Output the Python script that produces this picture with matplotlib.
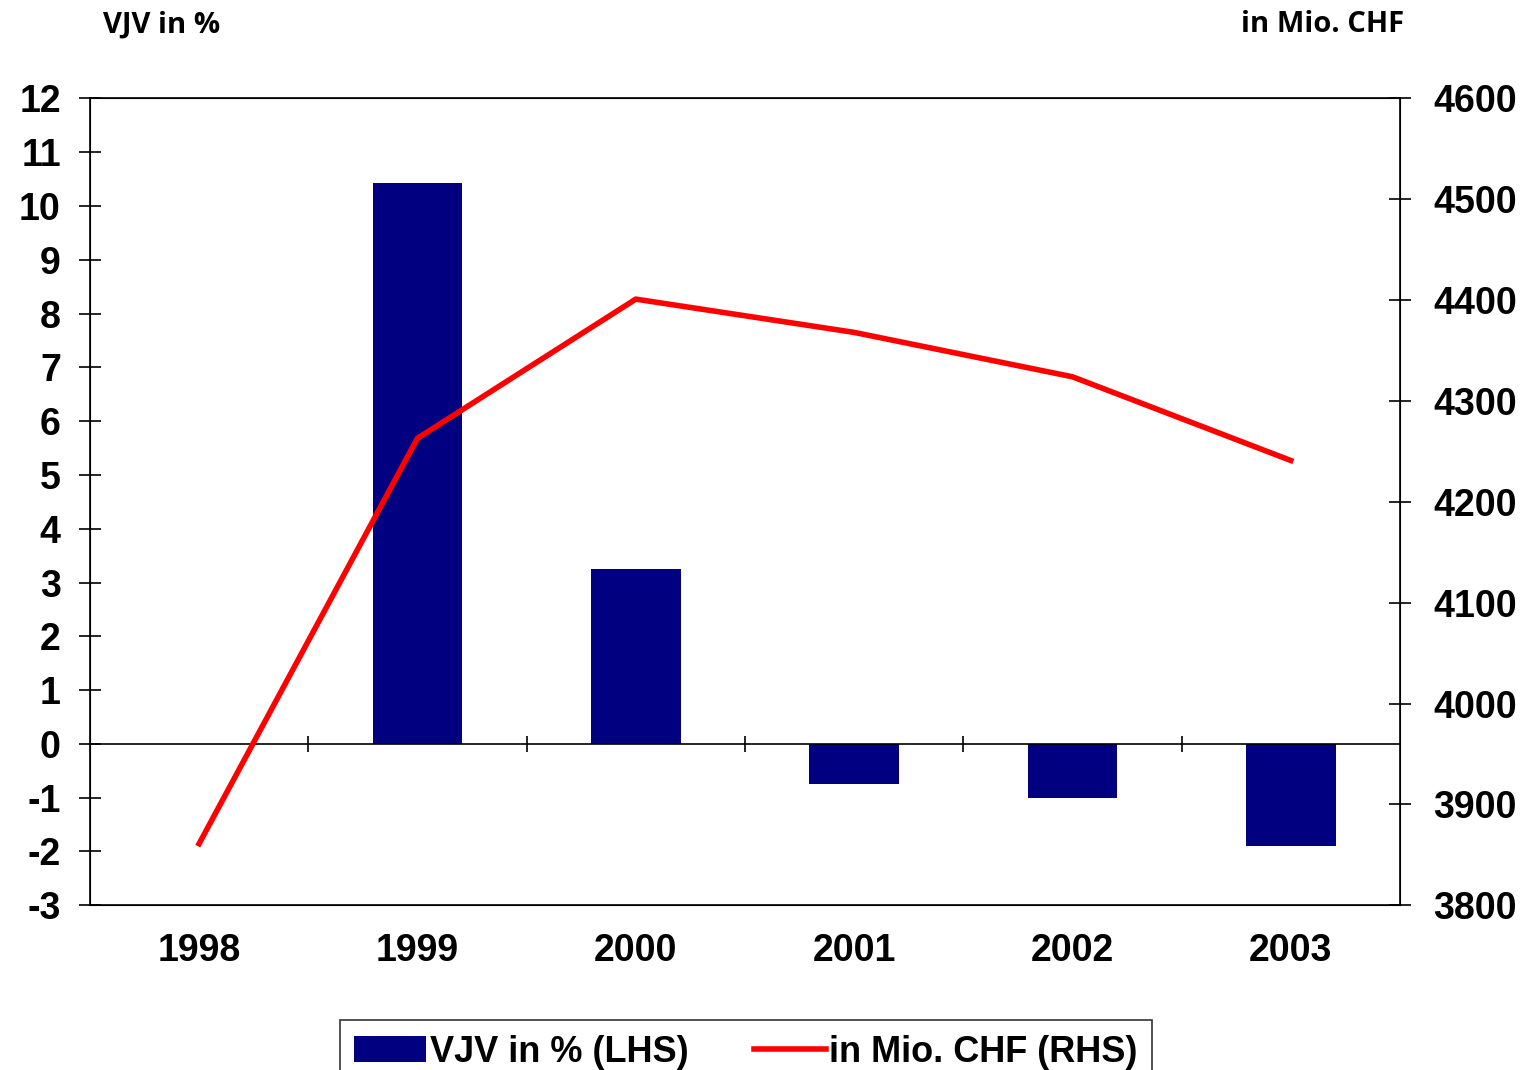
import matplotlib

matplotlib.use("Agg")
import matplotlib.pyplot as plt
import numpy as np

years = ["1998", "1999", "2000", "2001", "2002", "2003"]
vjv_pct = [0.0, 10.42, 3.26, -0.75, -1.0, -1.9]
mio_chf = [3861, 4263, 4401, 4368, 4324, 4241]

plt.rcParams["font.family"] = ["Liberation Sans", "DejaVu Sans"]
plt.rcParams["axes.unicode_minus"] = False

FS = 27

fig = plt.figure(figsize=(15.35, 10.7), dpi=100)
ax = fig.add_axes([0.0586, 0.154, 0.8534, 0.754])
x = np.arange(len(years))

bars = ax.bar(x, vjv_pct, width=0.41, color="#000080", zorder=2,
              label="VJV in % (LHS)")
ax.set_xlim(-0.5, len(years) - 0.5)
ax.set_ylim(-3, 12)
ax.set_yticks(range(-3, 13))
ax.axhline(0, color="black", linewidth=1.2, zorder=3)
ax.vlines(x[:-1] + 0.5, -0.15, 0.15, color="black", linewidth=1.2, zorder=3)
ax.set_xticks(x)
ax.set_xticklabels(years, fontsize=FS, fontweight="bold")
ax.tick_params(axis="x", length=0, pad=20)
ax.tick_params(axis="y", direction="inout", length=16, width=1.2,
               labelsize=FS, pad=13)
for lbl in ax.get_yticklabels():
    lbl.set_fontweight("bold")
for s in ax.spines.values():
    s.set_linewidth(1.2)

ax2 = ax.twinx()
line, = ax2.plot(x, mio_chf, color="#ff0000", linewidth=4, zorder=4,
                 label="in Mio. CHF (RHS)")
ax2.set_ylim(3800, 4600)
ax2.set_yticks(range(3800, 4601, 100))
ax2.tick_params(axis="y", direction="inout", length=16, width=1.2,
                labelsize=FS, pad=16)
for lbl in ax2.get_yticklabels():
    lbl.set_fontweight("bold")

fig.text(0.067, 0.977, "VJV in %", fontsize=21, fontweight="bold",
         family=["Open Sans", "DejaVu Sans"], va="center")
fig.text(0.915, 0.977, "in Mio. CHF", fontsize=21, fontweight="bold",
         family=["Open Sans", "DejaVu Sans"], va="center", ha="right")

leg = fig.legend([bars, line], ["VJV in % (LHS)", "in Mio. CHF (RHS)"],
                 loc="lower center", bbox_to_anchor=(0.486, -0.03), ncol=2,
                 prop={"size": 26, "weight": "bold"}, frameon=True,
                 fancybox=False, edgecolor="black", handlelength=2.0,
                 handletextpad=0.1, columnspacing=1.8, borderpad=0.4)
leg.get_frame().set_linewidth(1.2)

fig.savefig("out.png", dpi=100)
